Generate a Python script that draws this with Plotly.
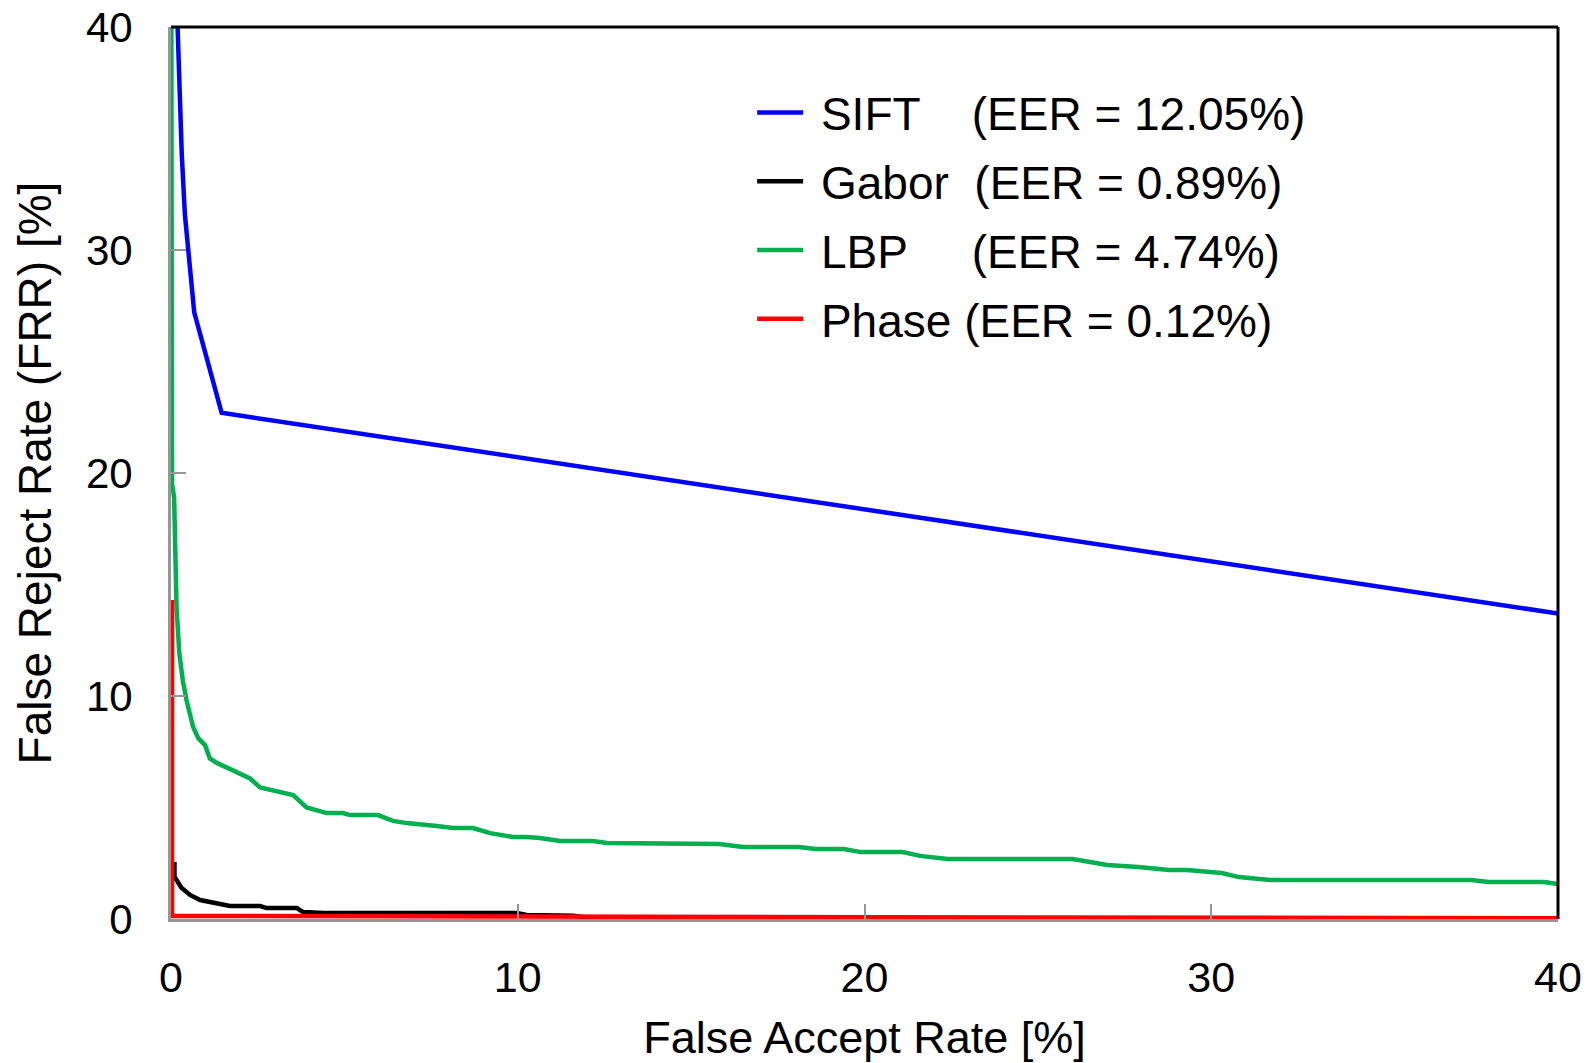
import plotly.graph_objects as go

# ---- data ----
sift_far = [0.19, 0.31, 0.40, 0.67, 1.46, 40.0]
sift_frr = [40.0, 34.3, 31.6, 27.2, 22.7, 13.7]

gabor_far = [0.10, 0.10, 0.30, 0.55, 0.84, 1.12, 1.40, 1.70, 2.57, 2.76, 3.63, 3.81,
             4.40, 9.97, 10.26, 11.6, 12.0, 14.5, 40.0]
gabor_frr = [2.56, 1.90, 1.40, 1.08, 0.85, 0.76, 0.67, 0.58, 0.58, 0.49, 0.49, 0.31,
             0.27, 0.27, 0.18, 0.15, 0.07, 0.02, 0.02]

lbp_far = [0.01, 0.03, 0.09, 0.14, 0.16, 0.24, 0.34, 0.45, 0.64, 0.79, 0.98, 1.12,
           1.32, 1.60, 1.89, 2.28, 2.57, 2.85, 3.14, 3.52, 3.91, 4.49, 4.96, 5.16,
           5.97, 6.40, 6.80, 7.18, 7.66, 8.14, 8.71, 9.20, 9.86, 10.26, 10.64, 11.22,
           12.17, 12.57, 13.9, 14.3, 15.8, 16.5, 18.1, 18.6, 19.4, 19.9, 21.1, 21.6,
           22.4, 26.0, 26.5, 27.0, 27.9, 28.8, 29.3, 30.3, 30.8, 31.7, 37.5, 38.0,
           39.6, 40.0]
lbp_frr = [40.0, 19.5, 18.9, 15.5, 14.0, 11.9, 10.7, 9.8, 8.6, 8.1, 7.8, 7.2,
           7.0, 6.8, 6.6, 6.3, 5.9, 5.8, 5.65, 5.56, 5.0, 4.75, 4.75, 4.66,
           4.66, 4.4, 4.3, 4.26, 4.17, 4.08, 4.08, 3.85, 3.68, 3.68, 3.63, 3.5,
           3.5, 3.41, 3.41, 3.36, 3.36, 3.23, 3.23, 3.14, 3.14, 3.0, 3.0, 2.83,
           2.69, 2.69, 2.56, 2.42, 2.33, 2.2, 2.2, 2.06, 1.88, 1.75, 1.75, 1.66,
           1.66, 1.57]

phase_far = [0.03, 0.03, 10.0, 20.0, 30.0, 40.0]
phase_frr = [14.3, 0.14, 0.11, 0.08, 0.05, 0.03]

names = ["\u00a0SIFT\u00a0\u00a0\u00a0\u00a0(EER = 12.05%)",
         "\u00a0Gabor\u00a0\u00a0(EER = 0.89%)",
         "\u00a0LBP\u00a0\u00a0\u00a0\u00a0\u00a0(EER = 4.74%)",
         "\u00a0Phase (EER = 0.12%)"]
colors = ["#0000FF", "#000000", "#00B050", "#FF0000"]

x_ticks = [0, 10, 20, 30, 40]
y_ticks = [0, 10, 20, 30, 40]

series = [(sift_far, sift_frr), (gabor_far, gabor_frr), (lbp_far, lbp_frr), (phase_far, phase_frr)]

fig = go.Figure()
draw_order = [0, 2, 1, 3]
for i in draw_order:
    xs, ys = series[i]
    fig.add_trace(go.Scatter(x=xs, y=ys, mode="lines", name=names[i],
                             line=dict(color=colors[i], width=4.5),
                             legendgroup=f"g{i}", legendrank=i + 1))

FONT = "Liberation Sans, Arial, sans-serif"
GRAY = "#969696"

# page body has an 8px margin: margins are shifted to compensate
fig.update_layout(
    width=1594, height=1063,
    margin=dict(l=163, r=44, t=19, b=152, autoexpand=False),
    paper_bgcolor="white", plot_bgcolor="white",
    font=dict(family=FONT, color="black"),
    showlegend=True,
    legend=dict(x=0.419, xanchor="left", y=0.945, yanchor="top",
                font=dict(size=46, family=FONT, color="black"),
                bgcolor="rgba(0,0,0,0)", tracegroupgap=6, itemwidth=46,
                traceorder="grouped"),
    xaxis=dict(range=[0, 40], tickvals=x_ticks, ticktext=[str(v) for v in x_ticks],
               automargin=False, ticklabeloverflow="allow",
               showgrid=False, zeroline=False,
               showline=True, linecolor=GRAY, linewidth=3,
               ticks="inside", ticklen=15, tickwidth=2, tickcolor=GRAY,
               tickfont=dict(size=43, family=FONT, color="black"),
               ticklabelstandoff=18,
               title=dict(text="False Accept Rate [%]", font=dict(size=45, family=FONT),
                          standoff=22)),
    yaxis=dict(range=[0, 40], tickvals=y_ticks, ticktext=[str(v) for v in y_ticks],
               automargin=False, ticklabeloverflow="allow",
               showgrid=False, zeroline=False,
               showline=True, linecolor=GRAY, linewidth=3,
               ticks="inside", ticklen=15, tickwidth=2, tickcolor=GRAY,
               tickfont=dict(size=42, family=FONT, color="black"),
               ticklabelstandoff=27,
               title=dict(text="False Reject Rate (FRR) [%]", font=dict(size=46, family=FONT),
                          standoff=20)),
    # plot-frame lines on the top and right (black), as in the reference
    shapes=[
        dict(type="line", xref="paper", yref="paper", x0=0.0, x1=1.0, y0=1.0, y1=1.0,
             line=dict(color="black", width=3), layer="above"),
        dict(type="line", xref="paper", yref="paper", x0=1.0, x1=1.0, y0=0.0, y1=1.0,
             line=dict(color="black", width=3), layer="above"),
    ],
)

fig.write_html("out.html")
